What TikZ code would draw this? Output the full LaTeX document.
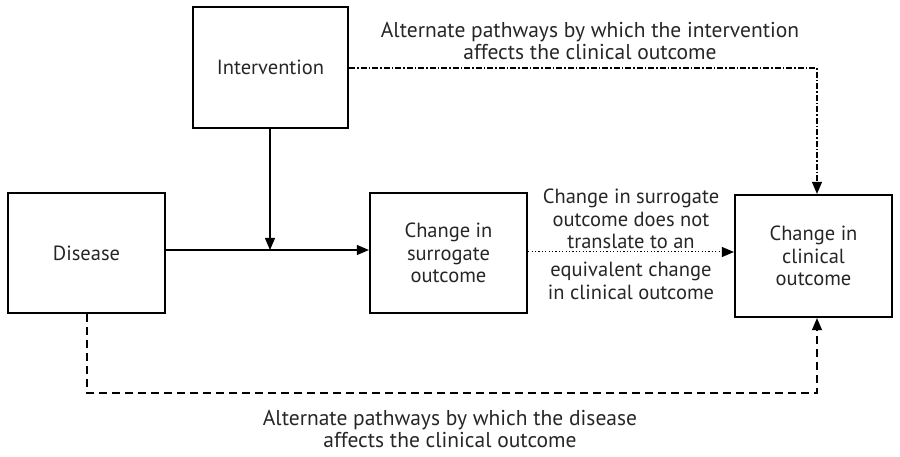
\documentclass[tikz,border=0pt]{standalone}
\usepackage{fontspec}
\setmainfont{PT Sans}
\usetikzlibrary{arrows.meta,calc}
\begin{document}
\begin{tikzpicture}[x=1pt,y=-1pt,
  every node/.style={font=\fontsize{20.5}{22.5}\selectfont, text=black!85, align=center},
  caption/.style={font=\fontsize{21.5}{22.5}\selectfont},
  box/.style={draw, line width=2.2pt, minimum width=157pt, minimum height=120pt, inner sep=0pt},
  link/.style={line width=1.1pt, -{Triangle[length=12pt,width=10pt]}},
  dashlink/.style={link, dash pattern=on 8pt off 5pt},
  dotlink/.style={link, line width=1pt, dash pattern=on 1.2pt off 2.2pt},
  dashdotlink/.style={link, dash pattern=on 6pt off 2pt on 1.5pt off 2pt}]
\useasboundingbox (0,0) rectangle (900,457);

% boxes
\node[box, minimum width=155pt, minimum height=121pt] (int) at (270.5,67.5) {Intervention};
\node[box] (dis) at (86.5,253) {Disease};
\node[box] (sur) at (448.5,253) {Change in\\surrogate\\outcome};
\node[box, minimum height=122pt] (cli) at (813.5,256) {Change in\\clinical\\outcome};

% main causal path
\coordinate (j) at (270,250);
\draw[line width=1.1pt] (dis.east |- j) -- (j);
\draw[link] (j) -- (sur.west |- j);
\draw[link] (int.south -| j) -- (j);

% surrogate to clinical
\coordinate (m) at (527,252);
\draw[dotlink] (sur.east |- m) -- (cli.west |- m);
\node[anchor=south, inner sep=0pt] (mtop) at (631,249) {Change in surrogate\\outcome does not\\translate to an};
\node[anchor=north, inner sep=0pt] (mbot) at (631,262) {equivalent change\\in clinical outcome};

% alternate pathway of the intervention
\coordinate (ti) at (817,68);
\draw[dashdotlink] (int.east |- ti) -- (ti) -- (ti |- cli.north);
\node[caption] (ttext) at (590,41) {Alternate pathways by which the intervention\\affects the clinical outcome};

% alternate pathway of the disease
\coordinate (bl) at (87,393);
\coordinate (br) at (817,393);
\draw[dashlink] (bl |- dis.south) -- (bl) -- (br) -- (br |- cli.south);
\node[caption] (btext) at (450,429) {Alternate pathways by which the disease\\affects the clinical outcome};
\end{tikzpicture}
\end{document}
